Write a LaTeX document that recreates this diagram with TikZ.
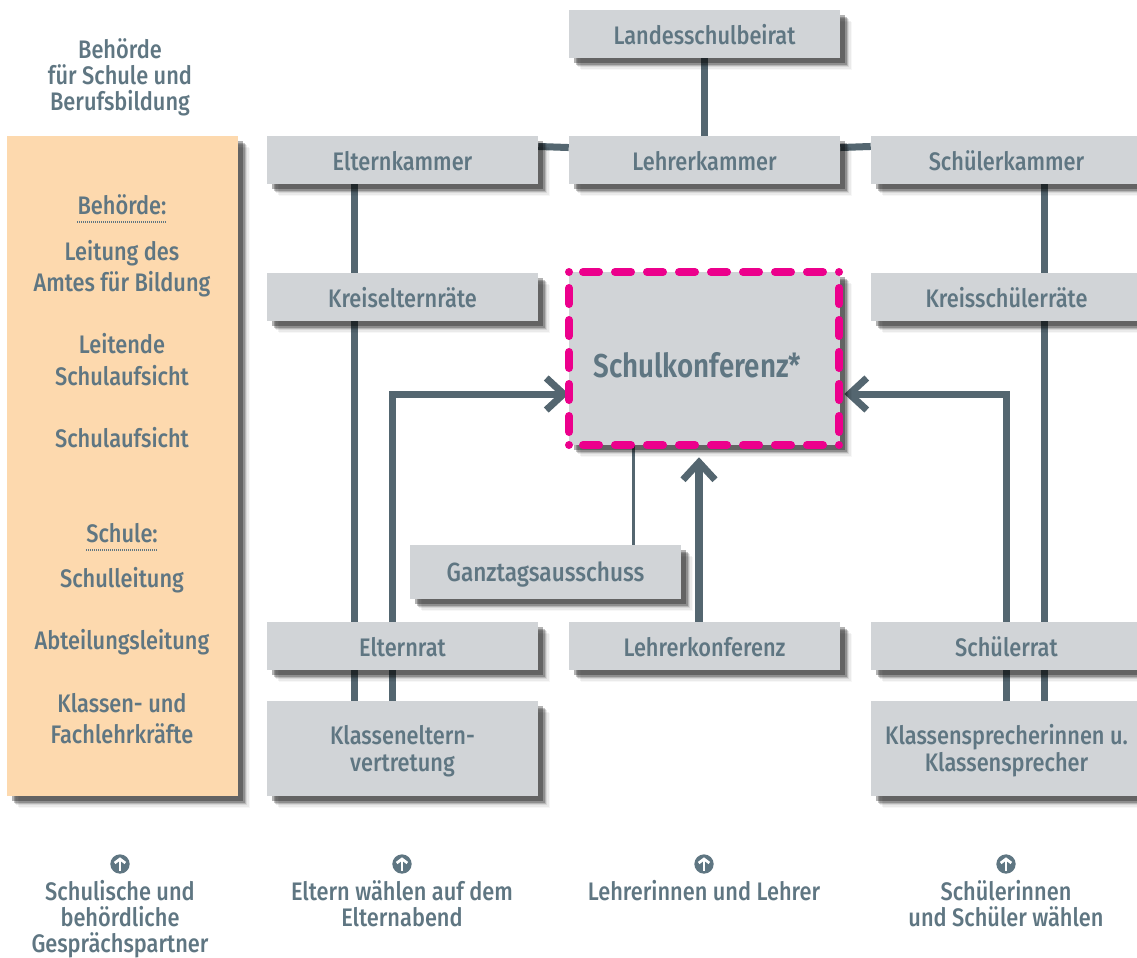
\documentclass[tikz,border=0pt]{standalone}
\usepackage{fontspec}
\setmainfont{Fira Sans Medium}[FakeStretch=0.86]
\newfontfamily\headfont{Fira Sans SemiBold}[FakeStretch=0.84]
\usetikzlibrary{shadows,arrows.meta,calc}
\definecolor{txt}{HTML}{5F7682}
\definecolor{linec}{HTML}{546670}
\definecolor{boxc}{HTML}{D1D4D7}
\definecolor{orangec}{HTML}{FDD9AE}
\definecolor{pinkc}{HTML}{EC008C}
\pgfdeclarelayer{under}
\pgfsetlayers{under,main}
\tikzset{
  fuzzy/.style={
    general shadow={shadow xshift=9pt,shadow yshift=-9pt,fill=black,opacity=.03},
    general shadow={shadow xshift=8pt,shadow yshift=-8pt,fill=black,opacity=.05},
    general shadow={shadow xshift=7pt,shadow yshift=-7pt,fill=black,opacity=.08},
    general shadow={shadow xshift=6pt,shadow yshift=-6pt,fill=black,opacity=.15},
    general shadow={shadow xshift=5pt,shadow yshift=-5pt,fill=black,opacity=.22},
    general shadow={shadow xshift=4pt,shadow yshift=-4pt,fill=black,opacity=.3}},
  gbox/.style={fuzzy,fill=boxc,minimum width=203.25pt,inner sep=0pt,align=center,text=txt,font=\fontsize{19}{20.25}\selectfont},
  small/.style={gbox,minimum height=36pt,text height=18pt,text depth=3pt},
  tall/.style={gbox,minimum height=71.25pt},
  lab/.style={text=txt,align=center,inner sep=0pt,font=\fontsize{19}{19.5}\selectfont},
  conn/.style={draw=linec,line width=5.25pt},
  thinconn/.style={draw=linec,line width=2.25pt},
  arr/.style={conn,-{Straight Barb[length=13pt,width=24pt,line width=5.25pt]}},
  arrb/.style={draw=linec,line width=6pt,-{Straight Barb[length=13pt,width=24pt,line width=5.25pt]}},
  pinkdash/.style={draw=pinkc,line width=6pt,line cap=round,dash pattern=on 12pt off 12pt},
  underl/.style={draw=txt,line width=1.5pt,dash pattern=on .75pt off .75pt},
  upicon/.style={circle,fill=txt,minimum size=14.5pt,inner sep=0pt}
}
\begin{document}
\begin{tikzpicture}[x=.75pt,y=-.75pt]
\useasboundingbox (0,0) rectangle (1137,957);
\begin{pgfonlayer}{under}
\fill[white] (0,0) rectangle (1137,957);
\end{pgfonlayer}
% columns of the connectors
\coordinate (xa) at (354,0);
\coordinate (xb) at (392,0);
\coordinate (xc) at (633,0);
\coordinate (xd) at (699,0);
\coordinate (xe) at (704,0);
\coordinate (xf) at (1006,0);
\coordinate (xg) at (1044,0);
\coordinate (ya) at (0,147);
\coordinate (yb) at (0,394);
% left panel
\node[fuzzy,fill=orangec,minimum width=173.25pt,minimum height=495pt,inner sep=0pt] (panel) at (122.5,466) {};
\node[small] (land) at (704.5,34) {Landesschulbeirat};
\node[small] (ek) at (402.5,160) {Elternkammer};
\node[small] (lk) at (704.5,160) {Lehrerkammer};
\node[small] (sk) at (1006.5,160) {Schülerkammer};
\node[small] (kr) at (402.5,297) {Kreiselternräte};
\node[small] (ks) at (1006.5,297) {Kreisschülerräte};
\node[gbox,minimum height=129.75pt,text height=32pt,text depth=3pt,font=\headfont\fontsize{24.8}{28}\selectfont] (sch) at (704.5,358.5) {Schulkonferenz*\hspace*{10.5pt}};
\node[gbox,minimum height=40.5pt,text height=17pt,text depth=3pt,font=\fontsize{19.7}{20.25}\selectfont] (gt) at (545.5,572) {Ganztagsausschuss};
\node[small] (er) at (402.5,646) {Elternrat};
\node[small] (lf) at (704.5,646) {Lehrerkonferenz};
\node[small] (sr) at (1006.5,646) {Schülerrat};
\node[tall] (kev) at (402.5,748.5) {\rule{0pt}{19pt}Klasseneltern-\\vertretung};
\node[tall] (ksp) at (1006.5,748.5) {\rule{0pt}{19pt}Klassensprecherinnen u.\\Klassensprecher};
% connectors
\begin{pgfonlayer}{under}
\draw[conn] (land.south -| xe) -- (lk.north -| xe);
\draw[conn] ([yshift=.4pt]ek.east |- ya) -- ([yshift=-.4pt]lk.west |- ya);
\draw[conn] ([yshift=-.4pt]lk.east |- ya) -- ([yshift=.4pt]sk.west |- ya);
\draw[conn] (ek.south -| xa) -- (kr.north -| xa);
\draw[conn] (kr.south -| xa) -- (er.north -| xa);
\draw[conn] (er.south -| xa) -- (kev.north -| xa);
\draw[conn] (er.south -| xb) -- (kev.north -| xb);
\draw[conn] (sk.south -| xg) -- (ks.north -| xg);
\draw[conn] (ks.south -| xg) -- (sr.north -| xg);
\draw[conn] (sr.south -| xf) -- (ksp.north -| xf);
\draw[conn] (sr.south -| xg) -- (ksp.north -| xg);
\draw[thinconn] (sch.south -| xc) -- (gt.north -| xc);
\draw[arr] (er.north -| xb) -- (xb |- yb) -- (sch.west |- yb);
\draw[arr] (sr.north -| xf) -- (xf |- yb) -- ([xshift=3pt]sch.east |- yb);
\draw[arrb] (lf.north -| xd) -- ([yshift=-9pt]sch.south -| xd);
\end{pgfonlayer}
% pink outline
\draw[pinkdash] (583,272) -- (824,272);
\draw[pinkdash] (583,445) -- (824,445);
\draw[pinkdash] (569,288) -- (569,436);
\draw[pinkdash] (839,288) -- (839,436);
\foreach \cx/\cy in {569/272,839/272,569/445,839/445}
  \fill[pinkc] (\cx,\cy) circle[radius=4];
% panel texts
\node[lab] (t1) at (122,205) {Behörde:};
\draw[underl] ([yshift=-5.5pt]t1.base west) -- ([yshift=-5.5pt]t1.base east);
\node[lab] (t2) at (122,253) {Leitung des};
\node[lab] (t3) at (122,284) {Amtes für Bildung};
\node[lab] (t4) at (122,344) {Leitende};
\node[lab] (t5) at (122,376) {Schulaufsicht};
\node[lab] (t6) at (122,438) {Schulaufsicht};
\node[lab] (t7) at (122,533) {Schule:};
\draw[underl] ([yshift=-5.5pt]t7.base west) -- ([yshift=-5.5pt]t7.base east);
\node[lab] (t8) at (122,580) {Schulleitung};
\node[lab] (t9) at (122,642) {Abteilungsleitung};
\node[lab] (t10) at (122,703) {Klassen- und};
\node[lab] (t11) at (122,734) {Fachlehrkräfte};
% header
\node[lab] (head) at (120,77) {Behörde\\für Schule und\\Berufsbildung};
% bottom
\foreach \nn/\ix in {a/120,b/402,c/704,d/1006}{
  \node[upicon] (ic\nn) at (\ix,864) {};
  \draw[white,line width=2pt,-{Straight Barb[length=3pt,width=8pt,line width=2pt]}] ([yshift=-5pt]ic\nn.center) -- ([yshift=5pt]ic\nn.center);
}
\node[lab,anchor=north] (b1) at (120,880) {Schulische und\\behördliche\\Gesprächspartner};
\node[lab,anchor=north] (b2) at (402,880) {Eltern wählen auf dem\\Elternabend};
\node[lab,anchor=north] (b3) at (704,880) {Lehrerinnen und Lehrer};
\node[lab,anchor=north] (b4) at (1006,880) {Schülerinnen\\und Schüler wählen};
\end{tikzpicture}
\end{document}
